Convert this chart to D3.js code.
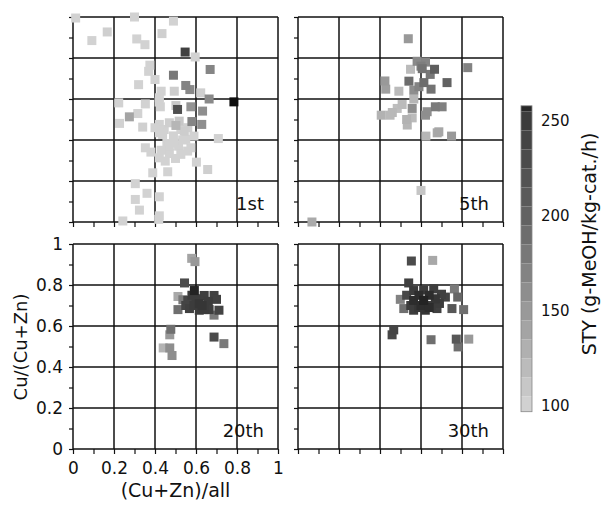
<!DOCTYPE html>
<html>
<head>
<meta charset="utf-8">
<script src="https://cdn.jsdelivr.net/npm/d3@7"></script>
<style>
  body { margin: 0; background: #fff; }
  text { font-family: "DejaVu Sans", sans-serif; fill: #111; }
</style>
</head>
<body>
<div id="chart"></div>
<script>
// each point: [ (Cu+Zn)/all, Cu/(Cu+Zn), STY ]
const run1st = [
  [0.013,0.995,100],[0.30,1.0,100],[0.49,0.98,100],[0.167,0.927,103],[0.092,0.885,100],
  [0.434,0.919,103],[0.311,0.893,100],[0.351,0.865,100],[0.547,0.829,245],[0.596,0.805,100],
  [0.669,0.744,168],[0.375,0.765,100],[0.369,0.735,100],[0.49,0.716,180],[0.40,0.695,100],
  [0.32,0.67,100],[0.55,0.666,170],[0.57,0.646,165],[0.494,0.638,105],[0.43,0.638,100],
  [0.623,0.63,103],[0.421,0.606,100],[0.664,0.60,165],[0.785,0.586,265],[0.223,0.581,100],
  [0.353,0.576,100],[0.426,0.562,100],[0.51,0.549,225],[0.575,0.562,155],[0.632,0.541,160],
  [0.502,0.568,108],[0.316,0.529,100],[0.275,0.513,140],[0.227,0.481,100],[0.34,0.463,102],
  [0.421,0.476,100],[0.47,0.484,103],[0.518,0.492,110],[0.58,0.49,168],[0.628,0.476,160],
  [0.502,0.471,125],[0.445,0.451,100],[0.543,0.443,105],[0.59,0.419,100],[0.709,0.407,100],
  [0.55,0.403,100],[0.458,0.383,100],[0.515,0.37,100],[0.575,0.362,100],[0.353,0.362,100],
  [0.38,0.341,100],[0.47,0.334,100],[0.526,0.33,100],[0.421,0.313,100],[0.45,0.297,100],
  [0.602,0.292,100],[0.657,0.256,103],[0.389,0.24,100],[0.462,0.245,100],[0.304,0.187,100],
  [0.361,0.14,100],[0.304,0.11,100],[0.421,0.123,100],[0.324,0.058,100],[0.243,0.005,100],
  [0.418,0.013,100],[0.421,0.03,100],[0.437,0.427,100],[0.494,0.386,100],[0.559,0.346,100],
  [0.47,0.37,100],[0.526,0.451,100],[0.421,0.435,100],[0.49,0.42,100],[0.535,0.40,100],
  [0.40,0.46,100],[0.56,0.46,103],[0.43,0.35,100],[0.50,0.31,100],[0.42,0.585,100]
];
const run5th = [
  [0.538,0.894,150],[0.581,0.784,165],[0.606,0.748,185],[0.666,0.745,205],[0.549,0.745,120],
  [0.622,0.78,168],[0.828,0.753,170],[0.424,0.688,150],[0.428,0.648,145],[0.541,0.687,190],
  [0.614,0.68,190],[0.727,0.68,200],[0.492,0.638,120],[0.565,0.643,160],[0.649,0.648,185],
  [0.565,0.60,125],[0.557,0.554,160],[0.508,0.573,120],[0.484,0.554,118],[0.46,0.534,122],
  [0.406,0.521,128],[0.449,0.521,122],[0.63,0.538,160],[0.67,0.562,178],[0.703,0.562,172],
  [0.622,0.521,158],[0.533,0.473,125],[0.557,0.508,120],[0.624,0.419,125],[0.679,0.435,135],
  [0.687,0.44,138],[0.749,0.419,150],[0.6,0.154,112],[0.068,0.0,135],[0.60,0.76,175],
  [0.645,0.72,180],[0.59,0.66,170],[0.53,0.50,128]
];
const run20th = [
  [0.579,0.93,140],[0.595,0.914,150],[0.544,0.81,230],[0.512,0.744,137],[0.536,0.728,178],
  [0.592,0.773,258],[0.6,0.733,250],[0.64,0.749,248],[0.688,0.749,245],[0.56,0.725,240],
  [0.568,0.685,245],[0.616,0.677,250],[0.664,0.68,248],[0.712,0.677,240],[0.688,0.653,178],
  [0.512,0.68,188],[0.616,0.709,252],[0.477,0.584,188],[0.472,0.557,150],[0.44,0.493,127],
  [0.472,0.493,160],[0.483,0.456,160],[0.688,0.546,230],[0.736,0.514,178],
  [0.58,0.75,250],[0.66,0.72,250],[0.70,0.73,245],[0.63,0.70,252],[0.59,0.70,250],
  [0.64,0.68,250],[0.55,0.70,240]
];
const run30th = [
  [0.553,0.917,230],[0.657,0.92,137],[0.54,0.81,245],[0.499,0.73,170],[0.516,0.685,188],
  [0.564,0.773,250],[0.613,0.776,250],[0.662,0.781,248],[0.564,0.725,255],[0.613,0.725,258],
  [0.67,0.733,252],[0.564,0.677,250],[0.621,0.677,252],[0.678,0.685,245],[0.719,0.741,240],
  [0.763,0.781,178],[0.779,0.741,196],[0.751,0.685,215],[0.808,0.68,188],[0.467,0.581,240],
  [0.459,0.557,235],[0.649,0.533,188],[0.772,0.536,215],[0.833,0.536,150],[0.781,0.498,188],
  [0.59,0.75,255],[0.64,0.75,255],[0.69,0.71,250],[0.60,0.70,255],[0.53,0.75,235],[0.65,0.70,250],
  [0.59,0.69,252],[0.64,0.69,255],[0.70,0.755,245],[0.55,0.70,250]
];
const runLabels = ['1st', '5th', '20th', '30th'];
const majorTicks = [0, 0.2, 0.4, 0.6, 0.8, 1];
const minorTicks = [0, 0.1, 0.2, 0.3, 0.4, 0.5, 0.6, 0.7, 0.8, 0.9, 1];
const styTicks = [100, 150, 200, 250];
const styRange = [97, 258];

const width = 604, height = 513;
const size = 205;   // panel size
const panelPos = [[73, 17], [298, 17], [73, 244], [298, 244]];
const runs = [run1st, run5th, run20th, run30th];

const svg = d3.select('#chart')
  .append('svg')
    .attr('width', width)
    .attr('height', height);

const x = d3.scaleLinear().domain([0, 1]).range([0, size]);
const y = d3.scaleLinear().domain([0, 1]).range([size, 0]);

const color = d3.scaleLinear()
    .domain([95, 150, 200, 250, 265])
    .range(['#d8d8d8', '#999999', '#626262', '#3c3c3c', '#0e0e0e'])
    .clamp(true);

const fmt = d => d3.format('.1~f')(d);
const sq = 9;

runs.forEach(function(data, i) {
  const g = svg.append('g')
      .attr('transform', 'translate(' + panelPos[i][0] + ',' + panelPos[i][1] + ')');

  // grid
  g.selectAll('.vg').data(majorTicks).enter().append('line')
      .attr('x1', d => x(d)).attr('x2', d => x(d))
      .attr('y1', 0).attr('y2', size)
      .attr('stroke', '#111').attr('stroke-width', 1.5);
  g.selectAll('.hg').data(majorTicks).enter().append('line')
      .attr('y1', d => y(d)).attr('y2', d => y(d))
      .attr('x1', 0).attr('x2', size)
      .attr('stroke', '#111').attr('stroke-width', 1.5);

  // minor ticks
  g.append('g')
      .attr('transform', 'translate(0,' + size + ')')
      .call(d3.axisBottom(x).tickValues(minorTicks).tickSize(5).tickFormat(''))
      .call(a => a.select('.domain').remove())
      .selectAll('line').attr('stroke', '#111').attr('stroke-width', 1.2);
  g.append('g')
      .call(d3.axisLeft(y).tickValues(minorTicks).tickSize(4).tickFormat(''))
      .call(a => a.select('.domain').remove())
      .selectAll('line').attr('stroke', '#111').attr('stroke-width', 1.2);

  // points (lighter first, darker on top)
  const pts = data.slice().sort((a, b) => a[2] - b[2]);
  g.selectAll('rect.pt').data(pts).enter().append('rect')
      .attr('class', 'pt')
      .attr('x', d => x(d[0]) - sq / 2)
      .attr('y', d => y(d[1]) - sq / 2)
      .attr('width', sq).attr('height', sq)
      .attr('fill', d => color(d[2]));

  g.append('text')
      .attr('x', size - 14).attr('y', size - 12)
      .attr('text-anchor', 'end')
      .style('font-size', '18px')
      .text(runLabels[i]);

  // tick labels only on lower-left panel
  if (i === 2) {
    g.append('g')
        .attr('transform', 'translate(0,' + size + ')')
        .call(d3.axisBottom(x).tickValues(majorTicks).tickSize(0).tickPadding(13).tickFormat(fmt))
        .call(a => a.select('.domain').remove())
        .selectAll('text').style('font-size', '17px').style('font-family', '"DejaVu Sans", sans-serif').attr('fill', '#111');
    g.append('g')
        .call(d3.axisLeft(y).tickValues(majorTicks).tickSize(0).tickPadding(10).tickFormat(fmt))
        .call(a => a.select('.domain').remove())
        .selectAll('text').style('font-size', '17px').style('font-family', '"DejaVu Sans", sans-serif').attr('fill', '#111');
  }
});

// axis titles
svg.append('text')
    .attr('x', panelPos[2][0] + size / 2).attr('y', 497)
    .attr('text-anchor', 'middle')
    .style('font-size', '19px')
    .text('(Cu+Zn)/all');
svg.append('text')
    .attr('transform', 'translate(27,' + (panelPos[2][1] + 103) + ') rotate(-90)')
    .attr('text-anchor', 'middle')
    .style('font-size', '18px')
    .text('Cu/(Cu+Zn)');

// colour bar
const cbX = 521, cbW = 11;
const cbY = d3.scaleLinear().domain([100, 250]).range([406, 121]);
const edges = [styRange[0]].concat(d3.range(105, styRange[1], 10), [styRange[1]]);
const bands = d3.pairs(edges);
const cb = svg.append('g');
cb.selectAll('rect').data(bands).enter().append('rect')
    .attr('x', cbX)
    .attr('y', d => cbY(d[1]))
    .attr('width', cbW)
    .attr('height', d => cbY(d[0]) - cbY(d[1]))
    .attr('fill', d => color((d[0] + d[1]) / 2));
cb.append('rect')
    .attr('x', cbX).attr('y', cbY(styRange[1]))
    .attr('width', cbW).attr('height', cbY(styRange[0]) - cbY(styRange[1]))
    .attr('fill', 'none').attr('stroke', '#888').attr('stroke-width', 0.8);
cb.selectAll('text').data(styTicks).enter().append('text')
    .attr('x', 541)
    .attr('y', d => cbY(d))
    .attr('dy', '0.36em')
    .style('font-size', '15px')
    .text(d => d);
svg.append('text')
    .attr('transform', 'translate(596,' + 244 + ') rotate(-90)')
    .attr('text-anchor', 'middle')
    .style('font-size', '19px')
    .text('STY (g-MeOH/kg-cat./h)');
</script>
</body>
</html>
